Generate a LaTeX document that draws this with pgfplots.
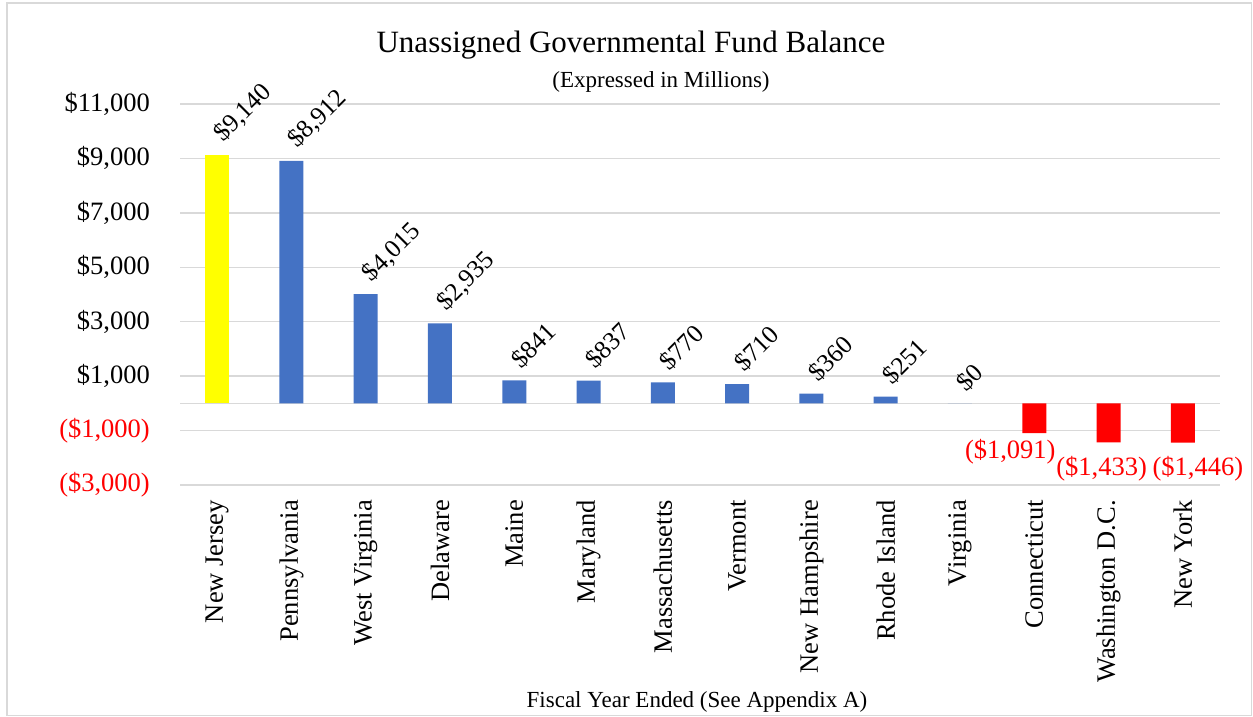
\documentclass[border=0pt]{standalone}
\usepackage{fontspec}
\setmainfont{Liberation Serif}
\usepackage{pgfplots}
\pgfplotsset{compat=1.18}
\usepackage{pgfplotstable}

\definecolor{barblue}{HTML}{4472C4}
\definecolor{gridgray}{HTML}{D9D9D9}
\definecolor{negred}{HTML}{FF0000}
\definecolor{njyellow}{HTML}{FFFF00}

\newcommand{\ticksize}{\fontsize{26.5}{31}\selectfont}
\newcommand{\labsize}{\fontsize{25.5}{30}\selectfont}

% balances in millions
\pgfplotstableread{
x y
0 9140
}\njdata
\pgfplotstableread{
x y
1 8912
2 4015
3 2935
4 841
5 837
6 770
7 710
8 360
9 251
10 0
}\posdata
% m = value shown, dx/dy = label offsets
\pgfplotstableread{
x y m dx dy
11 -1091 1091 -24 -19
12 -1433 1433 -7 -26
13 -1446 1446 15 -26
}\negdata

\pgfkeys{/pgf/number format/.cd, fixed, precision=0, 1000 sep={,}, assume math mode=true}

\begin{document}
\begin{tikzpicture}
\useasboundingbox (0pt,0pt) rectangle (1253pt,717pt);
\draw[gridgray, line width=1.5pt] (7pt,1.5pt) rectangle (1251.5pt,714pt);

\begin{axis}[
    at={(180pt,232pt)}, anchor=south west,
    scale only axis, width=1040pt, height=381pt,
    xmin=-0.5, xmax=13.5, ymin=-3000, ymax=11000,
    enlargelimits=false, clip=false,
    scaled y ticks=false,
    ybar, bar width=24pt,
    axis line style={draw=none},
    major tick length=0pt,
    ymajorgrids, grid style={gridgray, line width=1.5pt},
    ytick={-3000,-1000,1000,3000,5000,7000,9000,11000},
    yticklabels={{\textcolor{negred}{(\$3,000)}},{\textcolor{negred}{(\$1,000)}},{\$1,000},{\$3,000},{\$5,000},{\$7,000},{\$9,000},{\$11,000}},
    extra y ticks={0}, extra y tick labels={},
    extra y tick style={grid=major, major grid style={gridgray, line width=1.5pt}},
    yticklabel style={font=\ticksize, anchor=east, inner sep=0pt, xshift=-30pt},
    xtick={0,...,13},
    xticklabels={New Jersey,Pennsylvania,West Virginia,Delaware,Maine,Maryland,Massachusetts,Vermont,New Hampshire,Rhode Island,Virginia,Connecticut,Washington D.C.,New York},
    xticklabel style={font=\ticksize, inner sep=0pt, yshift=-15pt, rotate=90, anchor=east},
  ]
  \addplot[fill=njyellow, draw=none, bar shift=0pt,
    nodes near coords={\$\pgfmathprintnumber{\pgfplotspointmeta}},
    every node near coord/.append style={font=\labsize, text=black, inner sep=0pt, xshift=1pt, yshift=17pt, rotate=45, anchor=west}]
    table[x=x, y=y] {\njdata};
  \addplot[fill=barblue, draw=none, bar shift=0pt,
    nodes near coords={\$\pgfmathprintnumber{\pgfplotspointmeta}},
    every node near coord/.append style={font=\labsize, text=black, inner sep=0pt, xshift=1pt, yshift=17pt, rotate=45, anchor=west}]
    table[x=x, y=y] {\posdata};
  \addplot[fill=negred, draw=none, bar shift=0pt,
    point meta=explicit,
    visualization depends on={\thisrow{dx}\as\dx},
    visualization depends on={\thisrow{dy}\as\dy},
    nodes near coords={(\$\pgfmathprintnumber{\pgfplotspointmeta})},
    every node near coord/.append style={font=\ticksize, text=negred, inner sep=0pt, anchor=center, xshift=\dx pt, yshift=\dy pt}]
    table[x=x, y=y, meta=m] {\negdata};
\end{axis}

\node[anchor=base, font=\fontsize{31}{36}\selectfont] at (631pt,664pt) {Unassigned Governmental Fund Balance};
\node[anchor=base, font=\fontsize{23}{27}\selectfont] at (661pt,629pt) {(Expressed in Millions)};
\node[anchor=base, font=\fontsize{23}{27}\selectfont] at (697pt,9pt) {Fiscal Year Ended (See Appendix A)};
\end{tikzpicture}
\end{document}
